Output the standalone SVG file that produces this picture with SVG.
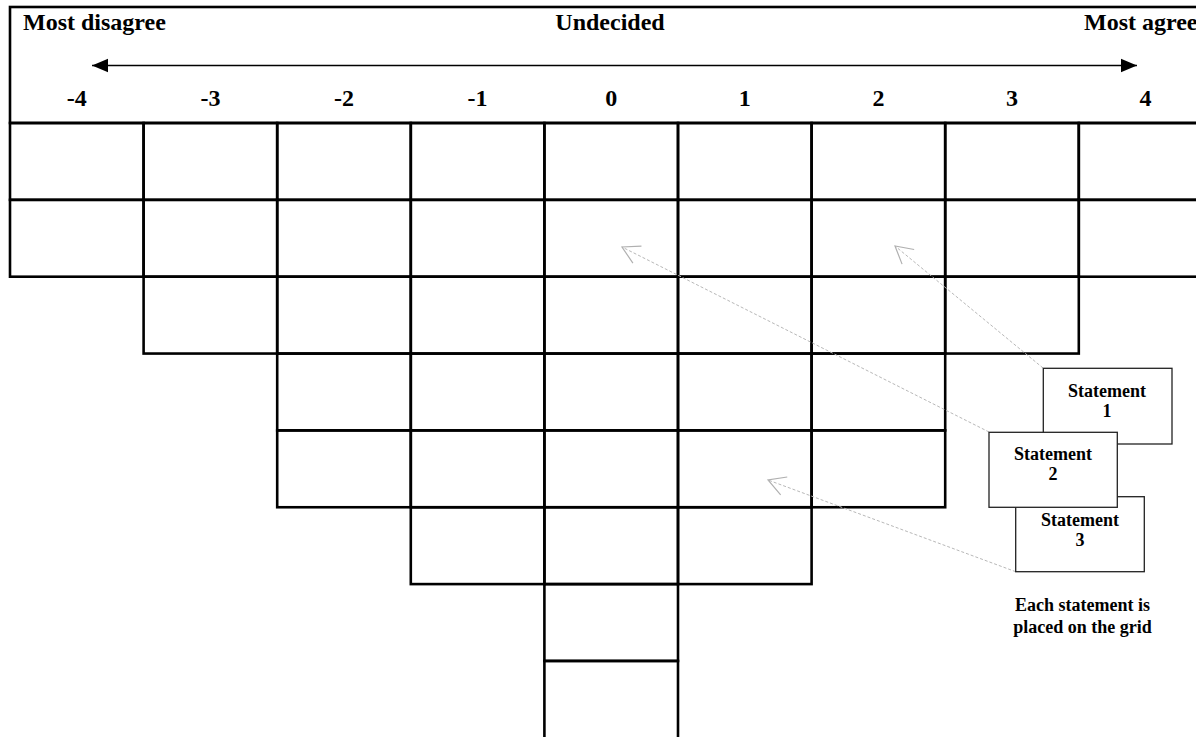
<svg xmlns="http://www.w3.org/2000/svg" width="1196" height="737" viewBox="0 0 1196 737">
<style>
text{font-family:"Liberation Serif","Times New Roman",serif;font-weight:bold;fill:#000}
.hdr{font-size:24px}
.num{font-size:24px;text-anchor:middle}
.st{font-size:18px;text-anchor:middle}
.cap{font-size:18px;text-anchor:middle}
.cell{fill:none;stroke:#000;stroke-width:2.6}
.box{fill:#fff;stroke:#222;stroke-width:1.3}
.dash{fill:none;stroke:#b8b8b8;stroke-width:1;stroke-dasharray:3 2}
</style>
<defs>
<marker id="vhead" markerUnits="userSpaceOnUse" viewBox="-20 -12 22 24" markerWidth="22" markerHeight="24" refX="0" refY="0" orient="auto" overflow="visible">
<path d="M-17,-9.5 L0,0 L-17,9.5" fill="none" stroke="#b0b0b0" stroke-width="1.2"/>
</marker>
<marker id="tri" markerUnits="userSpaceOnUse" viewBox="-16 -7 17 14" markerWidth="17" markerHeight="14" refX="0" refY="0" orient="auto-start-reverse" overflow="visible">
<path d="M-16,-6.7 L0,0 L-16,6.7 Z" fill="#000"/>
</marker>
</defs>
<rect width="1196" height="737" fill="#fff"/>
<g id="header">
<rect class="cell" x="10" y="7" width="1300" height="116"/>
<text class="hdr" x="23" y="30">Most disagree</text>
<text class="hdr" x="610" y="30" text-anchor="middle">Undecided</text>
<text class="hdr" x="1084" y="30">Most agree</text>
<line x1="92" y1="65.5" x2="1137" y2="65.5" stroke="#000" stroke-width="1.3" marker-start="url(#tri)" marker-end="url(#tri)"/>
<text class="num" x="76.8" y="106">-4</text>
<text class="num" x="210.4" y="106">-3</text>
<text class="num" x="344" y="106">-2</text>
<text class="num" x="477.6" y="106">-1</text>
<text class="num" x="611.2" y="106">0</text>
<text class="num" x="744.8" y="106">1</text>
<text class="num" x="878.4" y="106">2</text>
<text class="num" x="1012" y="106">3</text>
<text class="num" x="1145.6" y="106">4</text>
</g>
<g id="grid">
<g id="row1">
<rect class="cell" x="10" y="123" width="133.6" height="76.85"/>
<rect class="cell" x="143.6" y="123" width="133.6" height="76.85"/>
<rect class="cell" x="277.2" y="123" width="133.6" height="76.85"/>
<rect class="cell" x="410.8" y="123" width="133.6" height="76.85"/>
<rect class="cell" x="544.4" y="123" width="133.6" height="76.85"/>
<rect class="cell" x="678" y="123" width="133.6" height="76.85"/>
<rect class="cell" x="811.6" y="123" width="133.6" height="76.85"/>
<rect class="cell" x="945.2" y="123" width="133.6" height="76.85"/>
<rect class="cell" x="1078.8" y="123" width="133.6" height="76.85"/>
</g>
<g id="row2">
<rect class="cell" x="10" y="199.85" width="133.6" height="76.85"/>
<rect class="cell" x="143.6" y="199.85" width="133.6" height="76.85"/>
<rect class="cell" x="277.2" y="199.85" width="133.6" height="76.85"/>
<rect class="cell" x="410.8" y="199.85" width="133.6" height="76.85"/>
<rect class="cell" x="544.4" y="199.85" width="133.6" height="76.85"/>
<rect class="cell" x="678" y="199.85" width="133.6" height="76.85"/>
<rect class="cell" x="811.6" y="199.85" width="133.6" height="76.85"/>
<rect class="cell" x="945.2" y="199.85" width="133.6" height="76.85"/>
<rect class="cell" x="1078.8" y="199.85" width="133.6" height="76.85"/>
</g>
<g id="row3">
<rect class="cell" x="143.6" y="276.7" width="133.6" height="76.85"/>
<rect class="cell" x="277.2" y="276.7" width="133.6" height="76.85"/>
<rect class="cell" x="410.8" y="276.7" width="133.6" height="76.85"/>
<rect class="cell" x="544.4" y="276.7" width="133.6" height="76.85"/>
<rect class="cell" x="678" y="276.7" width="133.6" height="76.85"/>
<rect class="cell" x="811.6" y="276.7" width="133.6" height="76.85"/>
<rect class="cell" x="945.2" y="276.7" width="133.6" height="76.85"/>
</g>
<g id="row4">
<rect class="cell" x="277.2" y="353.55" width="133.6" height="76.85"/>
<rect class="cell" x="410.8" y="353.55" width="133.6" height="76.85"/>
<rect class="cell" x="544.4" y="353.55" width="133.6" height="76.85"/>
<rect class="cell" x="678" y="353.55" width="133.6" height="76.85"/>
<rect class="cell" x="811.6" y="353.55" width="133.6" height="76.85"/>
</g>
<g id="row5">
<rect class="cell" x="277.2" y="430.4" width="133.6" height="76.85"/>
<rect class="cell" x="410.8" y="430.4" width="133.6" height="76.85"/>
<rect class="cell" x="544.4" y="430.4" width="133.6" height="76.85"/>
<rect class="cell" x="678" y="430.4" width="133.6" height="76.85"/>
<rect class="cell" x="811.6" y="430.4" width="133.6" height="76.85"/>
</g>
<g id="row6">
<rect class="cell" x="410.8" y="507.25" width="133.6" height="76.85"/>
<rect class="cell" x="544.4" y="507.25" width="133.6" height="76.85"/>
<rect class="cell" x="678" y="507.25" width="133.6" height="76.85"/>
</g>
<g id="row7">
<rect class="cell" x="544.4" y="584.1" width="133.6" height="76.85"/>
</g>
<g id="row8">
<rect class="cell" x="544.4" y="660.95" width="133.6" height="90"/>
</g>
</g>
<g id="connectors">
<path class="dash" d="M1043,368 L895,246" marker-end="url(#vhead)"/>
<path class="dash" d="M989,432 L622,247" marker-end="url(#vhead)"/>
<path class="dash" d="M1015.7,571.7 L768,480" marker-end="url(#vhead)"/>
</g>
<g id="statement1">
<rect class="box" x="1043.3" y="368.3" width="128.7" height="75.7"/>
<text class="st" x="1107" y="397">Statement</text>
<text class="st" x="1107" y="417">1</text>
</g>
<g id="statement3">
<rect class="box" x="1015.7" y="496.7" width="128.6" height="75"/>
<text class="st" x="1080" y="525.5">Statement</text>
<text class="st" x="1080" y="545.5">3</text>
</g>
<g id="statement2">
<rect class="box" x="989" y="432.3" width="128.3" height="75"/>
<text class="st" x="1053" y="460">Statement</text>
<text class="st" x="1053" y="480">2</text>
</g>
<g id="caption">
<text class="cap" x="1082.5" y="611">Each statement is</text>
<text class="cap" x="1082.5" y="633">placed on the grid</text>
</g>
</svg>
